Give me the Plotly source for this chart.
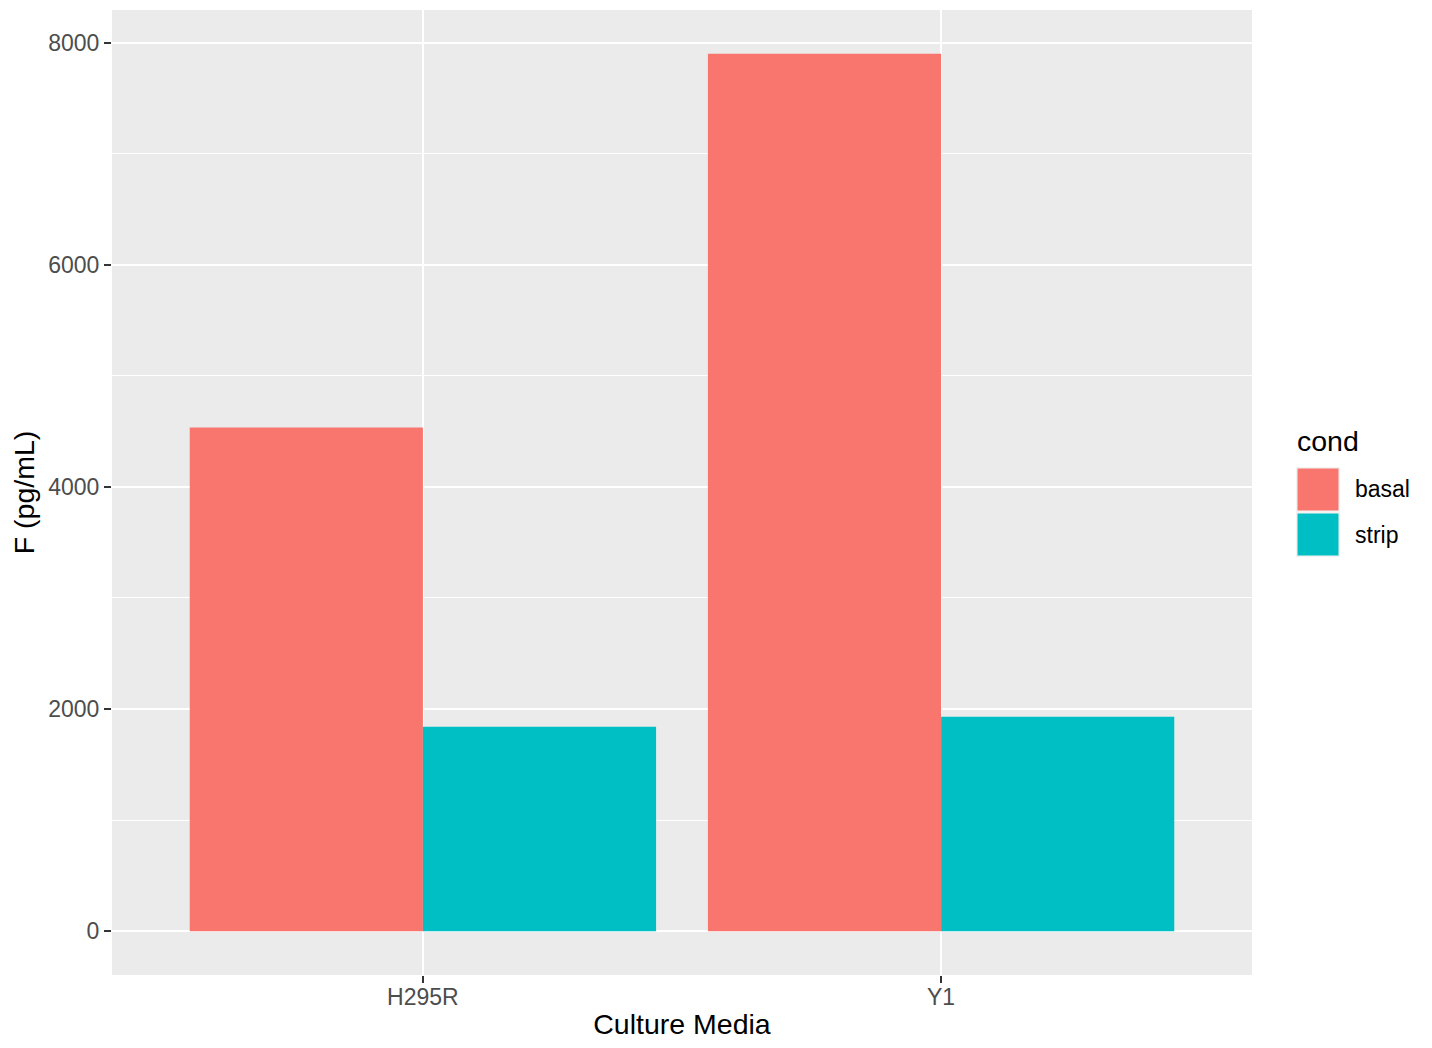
import plotly.graph_objects as go

categories = ["H295R", "Y1"]
basal = [4536, 7900]
strip = [1840, 1930]
series_names = ["basal", "strip"]
colors = ["#F8766D", "#00BFC4"]
y_ticks = [0, 2000, 4000, 6000, 8000]

FONT = "Liberation Sans, Arial, Helvetica, sans-serif"

# The page adds an 8px body margin; figure sized to fit the window.
W, H = 1416, 1032

fig = go.Figure()
for name, vals, col in zip(series_names, [basal, strip], colors):
    fig.add_trace(go.Bar(x=categories, y=vals, name=name, marker=dict(color=col, line=dict(width=0)),
                         showlegend=False))

fig.update_layout(
    width=W, height=H,
    margin=dict(l=104, r=W - 1244, t=2, b=H - 967, autoexpand=False),
    paper_bgcolor="white", plot_bgcolor="#EBEBEB",
    barmode="group", bargap=0.1, bargroupgap=0,
    font=dict(family=FONT, color="black"),
    showlegend=False,
)
fig.update_xaxes(
    type="category", range=[-0.6, 1.6], automargin=False,
    showgrid=True, gridcolor="white", gridwidth=2,
    ticks="outside", ticklen=7, tickwidth=2, tickcolor="#333333",
    ticklabelstandoff=-6,
    tickfont=dict(size=23, color="#4D4D4D", family=FONT),
    title=dict(text="Culture Media", font=dict(size=28.5, color="black", family=FONT), standoff=13),
    showline=False, zeroline=False,
)
fig.update_yaxes(
    range=[-395, 8295], tickvals=y_ticks, ticktext=[str(v) for v in y_ticks], automargin=False,
    showgrid=True, gridcolor="white", gridwidth=2,
    minor=dict(dtick=1000, tick0=0, showgrid=True, gridcolor="white", gridwidth=1, ticks=""),
    ticks="outside", ticklen=7, tickwidth=2, tickcolor="#333333",
    tickfont=dict(size=23, color="#4D4D4D", family=FONT),
    title=dict(text="F (pg/mL)", font=dict(size=28.5, color="black", family=FONT), standoff=11),
    showline=False, zeroline=False,
)

# legend drawn as layout decoration (ggplot-style keys); coordinates in screen pixels
def px_x(p):
    return (p - 112) / 1140
def px_y(p):
    return (975 - p) / 965

fig.add_annotation(x=px_x(1295), y=px_y(441), xref="paper", yref="paper", text="cond",
                   showarrow=False, xanchor="left", yanchor="middle",
                   font=dict(size=28.5, color="black", family=FONT))
key_tops = [467, 512]
for name, col, top in zip(series_names, colors, key_tops):
    fig.add_shape(type="rect", xref="paper", yref="paper",
                  x0=px_x(1296), x1=px_x(1340), y0=px_y(top), y1=px_y(top + 45),
                  fillcolor="#F2F2F2", line=dict(width=0), layer="above")
    fig.add_shape(type="rect", xref="paper", yref="paper",
                  x0=px_x(1297.5), x1=px_x(1338.5), y0=px_y(top + 1.5), y1=px_y(top + 43.5),
                  fillcolor=col, line=dict(width=0), layer="above")
    fig.add_annotation(x=px_x(1353), y=px_y(top + 22.5), xref="paper", yref="paper", text=name,
                       showarrow=False, xanchor="left", yanchor="middle",
                       font=dict(size=23, color="black", family=FONT))

fig.write_html("out.html")
